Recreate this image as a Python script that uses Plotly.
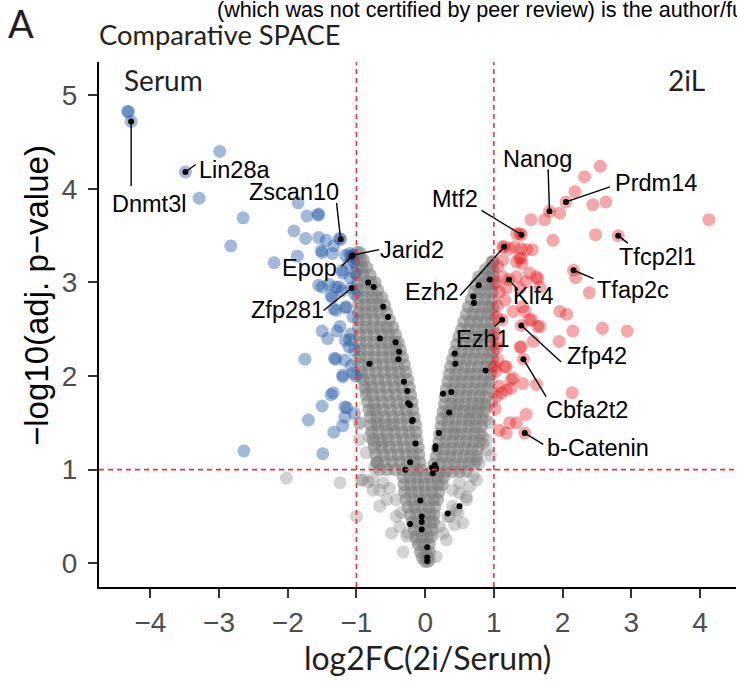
import plotly.graph_objects as go

# ---------------- data ----------------
# Serum-enriched (significant, log2FC < -1)
blue_x = [-4.33, -4.32, -4.28, -2.99, -3.49, -3.29, -2.65, -2.83, -2.20, -1.85,
          -1.72, -1.56, -1.55, -1.91, -1.74, -1.55, -1.44, -1.51, -1.33, -1.23,
          -1.25, -1.86, -1.16, -1.06, -1.07, -1.11, -1.21, -1.40, -1.50, -1.30,
          -1.07, -1.21, -1.35, -1.16, -1.30, -1.50, -1.35, -1.55, -1.37, -1.25,
          -1.33, -1.50, -1.42, -1.28, -1.16, -1.08, -1.11, -1.75, -1.30, -1.08,
          -1.20, -1.01, -1.37, -1.50, -1.14, -1.70, -1.17, -1.20, -1.33, -2.64,
          -1.49, -1.10, -1.20, -1.03, -1.15, -1.05, -1.24, -1.10, -1.03, -1.17,
          -1.32, -1.05, -1.20, -1.34, -1.17, -1.03, -1.04, -1.02, -1.09]
blue_y = [4.83, 4.82, 4.72, 4.40, 4.18, 3.90, 3.69, 3.39, 3.21, 3.85,
          3.71, 3.72, 3.73, 3.55, 3.47, 3.48, 3.45, 3.34, 3.39, 3.46,
          3.47, 3.28, 3.29, 3.29, 3.28, 3.20, 3.13, 2.98, 2.95, 2.95,
          2.94, 2.91, 2.84, 2.73, 2.70, 3.32, 3.31, 2.97, 2.86, 2.95,
          2.72, 2.48, 2.40, 2.48, 2.38, 2.45, 2.31, 2.18, 2.18, 2.11,
          1.99, 2.00, 1.80, 1.68, 1.66, 1.53, 1.56, 1.47, 1.40, 1.20,
          1.17, 3.31, 3.10, 2.88, 2.74, 2.63, 2.53, 2.39, 2.28, 2.17,
          2.19, 2.03, 2.01, 1.82, 1.67, 1.60, 3.22, 3.10, 3.05]

# 2iL-enriched (significant, log2FC > 1)
red_x = [2.55, 2.32, 2.18, 2.05, 1.96, 1.81, 1.74, 1.54, 2.44, 2.63,
         4.13, 1.86, 2.48, 2.81, 2.16, 2.19, 2.39, 1.96, 2.06, 2.15,
         2.58, 2.94, 1.95, 2.14, 1.40, 1.38, 1.33, 1.15, 1.13, 1.23,
         1.30, 1.40, 1.48, 1.56, 1.40, 1.37, 1.33, 1.41, 1.13, 1.06,
         1.22, 1.13, 1.33, 1.52, 1.62, 1.64, 1.47, 1.67, 1.38, 1.18,
         1.08, 1.16, 1.28, 1.45, 1.42, 1.55, 1.52, 1.40, 1.12, 1.04,
         1.64, 1.67, 1.57, 1.40, 1.38, 1.43, 1.04, 1.04, 1.06, 1.16,
         1.18, 1.01, 1.28, 1.25, 1.25, 1.08, 1.11, 1.18, 1.04, 1.62,
         1.42, 1.47, 1.33, 1.23, 1.18, 1.45, 1.03, 1.05, 1.02, 1.03,
         1.02, 1.08]
red_y = [4.24, 4.13, 3.97, 3.86, 3.74, 3.76, 3.67, 3.67, 3.83, 3.86,
         3.67, 3.45, 3.51, 3.50, 3.13, 3.05, 2.89, 2.69, 2.66, 2.48,
         2.51, 2.48, 2.37, 1.82, 3.51, 3.52, 3.52, 3.38, 3.38, 3.36,
         3.38, 3.36, 3.35, 3.35, 3.26, 3.26, 3.22, 3.20, 3.24, 3.17,
         3.03, 3.06, 3.06, 3.10, 3.06, 3.04, 3.01, 2.95, 2.94, 2.94,
         2.90, 2.81, 2.69, 2.69, 2.74, 2.60, 2.60, 2.54, 2.60, 2.63,
         2.53, 2.53, 2.37, 2.31, 2.31, 2.18, 2.30, 2.35, 2.17, 2.10,
         2.10, 2.10, 1.98, 1.96, 1.87, 1.89, 1.82, 1.85, 1.78, 1.91,
         1.92, 1.59, 1.50, 1.50, 1.39, 1.39, 3.00, 2.75, 2.45, 2.05,
         1.65, 1.42]

# Non-significant proteins: dense V-shaped cloud, listed row by row (y, [x...])
gray_core_rows = [
    # left arm
    (3.32, [-0.99, -0.95]),
    (3.24, [-0.99, -0.94, -0.90]),
    (3.16, [-0.99, -0.92, -0.85]),
    (3.08, [-0.99, -0.90, -0.80]),
    (3.00, [-0.98, -0.88, -0.79, -0.73]),
    (2.92, [-0.98, -0.88, -0.78, -0.69]),
    (2.84, [-0.98, -0.88, -0.78, -0.70, -0.63]),
    (2.76, [-0.97, -0.87, -0.77, -0.68, -0.59]),
    (2.68, [-0.97, -0.87, -0.77, -0.67, -0.56]),
    (2.60, [-0.97, -0.86, -0.75, -0.64, -0.52]),
    (2.52, [-0.97, -0.86, -0.76, -0.66, -0.56, -0.47]),
    (2.44, [-0.96, -0.85, -0.74, -0.63, -0.53, -0.43]),
    (2.36, [-0.96, -0.85, -0.74, -0.64, -0.54, -0.44, -0.39]),
    (2.28, [-0.95, -0.84, -0.73, -0.62, -0.52, -0.43, -0.36]),
    (2.20, [-0.95, -0.84, -0.73, -0.62, -0.52, -0.42, -0.33]),
    (2.12, [-0.94, -0.83, -0.72, -0.61, -0.50, -0.40, -0.30]),
    (2.04, [-0.93, -0.82, -0.71, -0.60, -0.49, -0.38, -0.28]),
    (1.96, [-0.90, -0.80, -0.69, -0.58, -0.47, -0.36, -0.25]),
    (1.88, [-0.88, -0.78, -0.67, -0.56, -0.45, -0.34, -0.23]),
    (1.80, [-0.86, -0.76, -0.65, -0.54, -0.43, -0.32, -0.21]),
    (1.72, [-0.84, -0.74, -0.63, -0.52, -0.41, -0.30, -0.19]),
    (1.64, [-0.82, -0.72, -0.61, -0.50, -0.39, -0.28, -0.18]),
    (1.56, [-0.80, -0.70, -0.59, -0.48, -0.37, -0.26, -0.16]),
    (1.48, [-0.79, -0.69, -0.58, -0.47, -0.36, -0.25, -0.14]),
    (1.40, [-0.78, -0.67, -0.56, -0.45, -0.34, -0.23, -0.13]),
    (1.32, [-0.76, -0.65, -0.54, -0.43, -0.32, -0.21, -0.12]),
    (1.24, [-0.74, -0.63, -0.52, -0.41, -0.30, -0.19, -0.10]),
    (1.16, [-0.72, -0.61, -0.50, -0.39, -0.28, -0.18, -0.09]),
    (1.08, [-0.70, -0.59, -0.48, -0.37, -0.26, -0.16, -0.08]),
    (1.00, [-0.66, -0.55, -0.44, -0.33, -0.22, -0.12, -0.05]),
    # right arm
    (3.22, [0.97, 0.99]),
    (3.14, [0.88, 0.95, 0.99]),
    (3.06, [0.78, 0.87, 0.95, 0.99]),
    (2.98, [0.74, 0.84, 0.93, 0.99]),
    (2.90, [0.71, 0.80, 0.89, 0.98]),
    (2.82, [0.67, 0.77, 0.87, 0.97]),
    (2.74, [0.63, 0.73, 0.83, 0.92, 0.99]),
    (2.66, [0.60, 0.70, 0.80, 0.90, 0.98]),
    (2.58, [0.56, 0.66, 0.76, 0.86, 0.96]),
    (2.50, [0.53, 0.63, 0.73, 0.83, 0.92, 0.99]),
    (2.42, [0.49, 0.59, 0.69, 0.79, 0.89, 0.98]),
    (2.34, [0.46, 0.56, 0.66, 0.76, 0.86, 0.96]),
    (2.26, [0.43, 0.53, 0.63, 0.73, 0.83, 0.93, 0.99]),
    (2.18, [0.40, 0.50, 0.60, 0.70, 0.80, 0.90, 0.98]),
    (2.10, [0.37, 0.47, 0.57, 0.67, 0.77, 0.87, 0.97]),
    (2.02, [0.35, 0.45, 0.55, 0.65, 0.75, 0.85, 0.95]),
    (1.94, [0.33, 0.43, 0.53, 0.63, 0.73, 0.83, 0.92]),
    (1.86, [0.31, 0.41, 0.51, 0.61, 0.71, 0.81, 0.90]),
    (1.78, [0.29, 0.39, 0.49, 0.59, 0.69, 0.79, 0.88]),
    (1.70, [0.28, 0.38, 0.48, 0.58, 0.68, 0.78, 0.87]),
    (1.62, [0.26, 0.36, 0.46, 0.56, 0.66, 0.76, 0.85]),
    (1.54, [0.24, 0.34, 0.44, 0.54, 0.64, 0.74, 0.83]),
    (1.46, [0.23, 0.33, 0.43, 0.53, 0.63, 0.73, 0.82]),
    (1.38, [0.21, 0.31, 0.41, 0.51, 0.61, 0.71, 0.80]),
    (1.30, [0.20, 0.30, 0.40, 0.50, 0.60, 0.70, 0.79]),
    (1.22, [0.18, 0.28, 0.38, 0.48, 0.58, 0.68, 0.77]),
    (1.14, [0.16, 0.26, 0.36, 0.46, 0.56, 0.66, 0.75]),
    (1.06, [0.13, 0.23, 0.33, 0.43, 0.53, 0.63, 0.72]),
    (0.98, [0.10, 0.20, 0.30, 0.40, 0.50, 0.60]),
    # stem of the V
    (0.92, [-0.32, -0.22, -0.12, -0.02, 0.08, 0.18, 0.27]),
    (0.84, [-0.31, -0.21, -0.11, -0.01, 0.09, 0.19, 0.25]),
    (0.76, [-0.30, -0.20, -0.10, 0.00, 0.10, 0.20]),
    (0.68, [-0.28, -0.18, -0.08, 0.02, 0.12, 0.18]),
    (0.60, [-0.25, -0.15, -0.05, 0.05, 0.14]),
    (0.52, [-0.22, -0.12, -0.02, 0.07, 0.13]),
    (0.44, [-0.19, -0.10, 0.00, 0.08, 0.12]),
    (0.36, [-0.16, -0.07, 0.02, 0.10]),
    (0.28, [-0.13, -0.04, 0.04, 0.09]),
    (0.20, [-0.10, -0.02, 0.06]),
    (0.12, [-0.07, 0.01, 0.06]),
    (0.06, [-0.04, 0.03]),
    (0.02, [0.00, 0.04]),
]

# Non-significant proteins at the ragged edges of the cloud
gray_edge_x = [-0.76, -0.66, -0.52, -0.69, -0.61, -0.74, -0.52, -0.71, -0.42, -0.35,
               -0.37, -0.32, 0.07, 0.16, 0.31, 0.43, 0.48, 0.60, 0.65, 0.75,
               0.50, 0.40, 0.26, 0.33, -0.13, -0.25, 0.75, 0.84, 0.89, 0.65,
               0.79, 0.43, 0.45, 0.31, -0.86, -0.95, -0.81, -0.86, -0.71, -0.91,
               -0.76, -0.61, -0.56, -0.66, -0.42, -0.49, -0.27, -1.00, -1.24, -2.02,
               -0.95, -1.00, -0.76, 0.40, 0.50, 0.60, 0.70, 0.79, 0.89, 0.84,
               0.94, 0.89, 0.99, 0.55, 0.45, 0.21, 0.36, 0.65, 0.89, -0.96,
               -0.96, -0.93, -0.83, -0.74, 0.96, 0.97, 0.95]
gray_edge_y = [0.89, 0.78, 0.80, 1.07, 1.30, 1.28, 1.48, 1.50, 0.68, 0.54,
               0.39, 0.12, 0.04, 0.07, 0.25, 0.41, 0.54, 0.68, 0.82, 0.89,
               0.75, 0.61, 0.32, 0.50, 0.25, 0.32, 1.10, 1.28, 1.53, 1.64,
               1.67, 1.39, 1.67, 1.60, 1.85, 1.50, 1.35, 1.18, 1.07, 0.89,
               0.78, 0.86, 0.68, 0.61, 0.50, 0.32, 0.29, 0.50, 0.86, 0.91,
               1.99, 2.17, 1.64, 0.78, 0.86, 0.71, 0.93, 1.07, 1.21, 1.35,
               1.50, 1.67, 1.82, 0.43, 0.57, 0.39, 0.50, 1.53, 1.32, 1.49,
               1.32, 0.89, 0.87, 1.02, 1.95, 1.72, 1.15]

# Highlighted proteins shown as black dots
hl_x = [-0.83, -0.75, -0.61, -0.54, -0.66, -0.43, -0.38, -0.39, -0.81, -0.31,
        -0.26, -0.25, -0.22, -0.18, -0.19, -0.14, -0.22, -0.29, -0.07, -0.05,
        -0.05, -0.05, -0.22, 0.03, 0.03, 0.03, 0.10, 0.16, 0.11, 0.14,
        0.15, 0.15, 0.20, 0.35, 0.26, 0.38, 0.43, 0.44, 0.88, 0.70,
        0.71, 0.78, 0.94, 0.50, 0.33]
hl_y = [3.00, 2.95, 2.74, 2.63, 2.40, 2.36, 2.26, 2.18, 2.13, 1.94,
        1.84, 1.71, 1.69, 1.53, 1.52, 1.28, 1.08, 1.00, 0.67, 0.50,
        0.44, 0.36, 0.42, 0.17, 0.06, 0.02, 1.02, 1.01, 0.96, 1.05,
        1.25, 1.22, 1.39, 1.61, 1.81, 1.83, 2.24, 2.13, 2.06, 2.85,
        2.78, 2.97, 3.03, 0.61, 0.53]

# Labelled proteins
gene_names = ["Dnmt3l", "Lin28a", "Zscan10", "Jarid2", "Epop", "Zfp281",
              "Nanog", "Prdm14", "Mtf2", "Ezh2", "Klf4", "Ezh1",
              "Zfp42", "Tfcp2l1", "Tfap2c", "Cbfa2t2", "b-Catenin"]
gene_x = [-4.28, -3.49, -1.23, -1.06, -1.07, -1.07,
          1.81, 2.05, 1.40, 1.15, 1.22, 1.12,
          1.40, 2.81, 2.16, 1.43, 1.45]
gene_y = [4.72, 4.18, 3.46, 3.29, 3.28, 2.94,
          3.76, 3.86, 3.51, 3.38, 3.03, 2.60,
          2.54, 3.50, 3.13, 2.18, 1.39]

# ---------------- label layout (text centre, end of leader line) ----------------
label_text_pos = [(-4.02, 3.84), (-2.77, 4.20), (-1.91, 3.97), (-0.19, 3.35),
                  (-1.68, 3.15), (-2.01, 2.71), (1.63, 4.32), (3.36, 4.06),
                  (0.44, 3.89), (0.10, 2.90), (1.57, 2.85), (0.84, 2.40),
                  (2.50, 2.21), (3.38, 3.27), (3.02, 2.92), (2.35, 1.64),
                  (2.51, 1.23)]
label_seg_end = [(-4.28, 4.03), (-3.34, 4.26), (-1.29, 3.85), (-0.67, 3.35),
                 (-1.22, 3.17), (-1.48, 2.70), (1.79, 4.21), (2.69, 4.02),
                 (0.82, 3.77), (0.51, 2.86), (1.35, 2.92), (1.01, 2.53),
                 (1.98, 2.15), (2.95, 3.42), (2.45, 3.04), (1.76, 1.78),
                 (1.72, 1.27)]

# ---------------- figure ----------------
gray_core_x = [v for p, vs in gray_core_rows for v in vs]
gray_core_y = [p for p, vs in gray_core_rows for v in vs]

W, H = 737, 682
L, R, T, B = 99, 1, 62, 95
PW, PH = W - L - R, H - T - B


def pxx(px):
    return (px - L) / PW


def pxy(py):
    return (H - B - py) / PH


ARIAL = "Liberation Sans, Arial, sans-serif"
MYRIAD = "Lato, Open Sans, sans-serif"
DASH_RED = "#ee3338"

fig = go.Figure()
fig.add_trace(go.Scatter(x=gray_edge_x, y=gray_edge_y, mode="markers",
                         marker=dict(size=13, color="#7f7f7f", opacity=0.35, line=dict(width=0)),
                         hoverinfo="skip", showlegend=False))
fig.add_trace(go.Scatter(x=gray_core_x, y=gray_core_y, mode="markers",
                         marker=dict(size=13, color="#7f7f7f", opacity=0.56, line=dict(width=0)),
                         hoverinfo="skip", showlegend=False))
fig.add_trace(go.Scatter(x=blue_x, y=blue_y, mode="markers",
                         marker=dict(size=13, color="#2457a5", opacity=0.42, line=dict(width=0)),
                         showlegend=False))
fig.add_trace(go.Scatter(x=red_x, y=red_y, mode="markers",
                         marker=dict(size=13, color="#e41a1c", opacity=0.38, line=dict(width=0)),
                         showlegend=False))
fig.add_trace(go.Scatter(x=hl_x + gene_x, y=hl_y + gene_y, mode="markers",
                         marker=dict(size=6, color="black", line=dict(width=0)),
                         showlegend=False))

shapes = []
for (gx, gy), (ex, ey) in zip(zip(gene_x, gene_y), label_seg_end):
    shapes.append(dict(type="line", xref="x", yref="y", x0=gx, y0=gy, x1=ex, y1=ey,
                       line=dict(color="black", width=1.4), layer="above"))
for xv in (-1, 1):
    shapes.append(dict(type="line", xref="x", yref="paper", x0=xv, x1=xv, y0=0, y1=1,
                       line=dict(color=DASH_RED, width=1.6, dash="5px,4px"), layer="above"))
shapes.append(dict(type="line", xref="paper", yref="y", x0=0, x1=1, y0=1, y1=1,
                   line=dict(color=DASH_RED, width=1.6, dash="5px,4px"), layer="above"))

annotations = []
for name, (tx, ty) in zip(gene_names, label_text_pos):
    annotations.append(dict(x=tx, y=ty, xref="x", yref="y", text=name, showarrow=False,
                            font=dict(family=ARIAL, size=23.5, color="black")))
annotations += [
    dict(x=-4.41, y=5.16, xref="x", yref="y", text="Serum", showarrow=False,
         xanchor="left", font=dict(family=MYRIAD, size=28, color="#231f20")),
    dict(x=4.11, y=5.16, xref="x", yref="y", text="2iL", showarrow=False,
         xanchor="right", font=dict(family=MYRIAD, size=28, color="#231f20")),
    dict(x=pxx(97), y=pxy(34), xref="paper", yref="paper", text="Comparative SPACE",
         showarrow=False, xanchor="left", yanchor="middle",
         font=dict(family=MYRIAD, size=27.3, color="#231f20")),
    dict(x=pxx(21), y=pxy(23), xref="paper", yref="paper", text="A",
         showarrow=False, xanchor="center", yanchor="middle",
         font=dict(family=MYRIAD, size=38, color="#231f20")),
    dict(x=pxx(215), y=pxy(9), xref="paper", yref="paper",
         text="(which was not certified by peer review) is the author/funder",
         showarrow=False, xanchor="left", yanchor="middle",
         font=dict(family=ARIAL, size=21.6, color="black")),
    dict(x=pxx(427), y=pxy(657), xref="paper", yref="paper", text="log2FC(2i/Serum)",
         showarrow=False, xanchor="center", yanchor="middle",
         font=dict(family=MYRIAD, size=32, color="#231f20")),
    dict(x=pxx(36), y=pxy(296), xref="paper", yref="paper", text="\u2212log10(adj. p\u2212value)",
         showarrow=False, xanchor="center", yanchor="middle", textangle=-90,
         font=dict(family=ARIAL, size=33, color="black")),
]

fig.update_layout(
    width=W, height=H, margin=dict(l=L, r=R, t=T, b=B, autoexpand=False),
    paper_bgcolor="white", plot_bgcolor="white",
    shapes=shapes, annotations=annotations, hovermode=False,
    xaxis=dict(range=[-4.748, 4.525], tickvals=[-4, -3, -2, -1, 0, 1, 2, 3, 4],
               showgrid=False, zeroline=False, showline=True, linecolor="black", linewidth=2,
               ticks="outside", ticklen=9, tickwidth=2, tickcolor="#333333",
               tickfont=dict(family=ARIAL, size=28, color="#4d4d4d")),
    yaxis=dict(range=[-0.254, 5.355], tickvals=[0, 1, 2, 3, 4, 5],
               showgrid=False, zeroline=False, showline=True, linecolor="black", linewidth=2,
               ticks="outside", ticklen=9, tickwidth=2, tickcolor="#333333",
               ticklabelstandoff=5,
               tickfont=dict(family=ARIAL, size=28, color="#4d4d4d")),
)

fig.write_html("out.html", config={"displayModeBar": False, "staticPlot": True},
               post_script="document.body.style.margin='0px';")
